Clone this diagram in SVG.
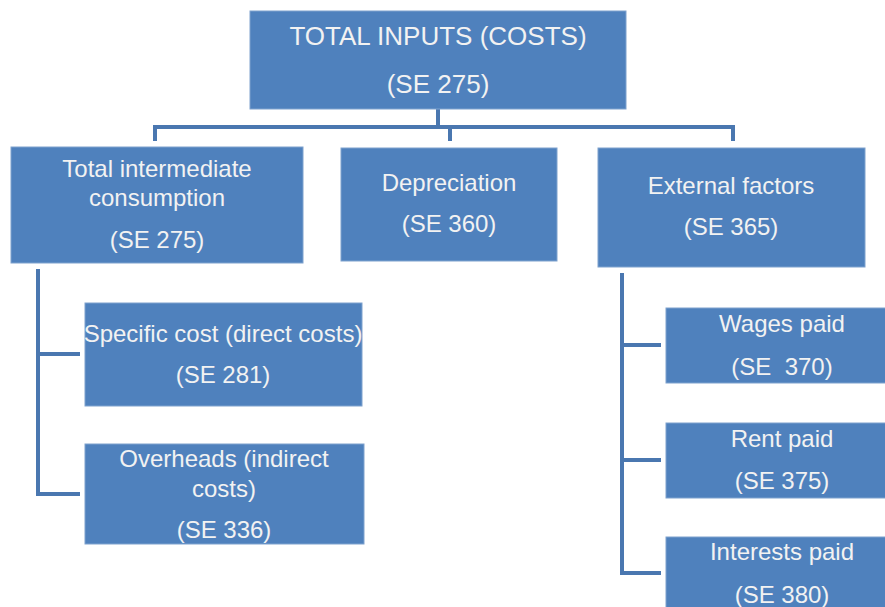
<svg xmlns="http://www.w3.org/2000/svg" width="885" height="607" viewBox="0 0 885 607">
<style>
.box{fill:#4F81BD;stroke:#7FA2CE;stroke-width:1}
.t{font-family:"Liberation Sans",Arial,sans-serif;font-size:24px;fill:#F2F2F2;text-anchor:middle}
.big{font-size:26px}
.c{fill:none;stroke:#4A77B0;stroke-width:4;stroke-linejoin:miter}
</style>
<rect width="885" height="607" fill="#fff"/>
<g id="connectors">
<path class="c" d="M438 109V127M155 141V127H733V141M450 127V141"/>
<path class="c" d="M38 269V494H80M38 354H80"/>
<path class="c" d="M622 273V573H661M622 345H661M622 460H661"/>
</g>
<g id="total">
<rect class="box" x="250" y="11" width="376" height="98"/>
<text class="t big" x="438" y="45">TOTAL INPUTS (COSTS)</text>
<text class="t big" x="438" y="93">(SE 275)</text>
</g>
<g id="intermediate">
<rect class="box" x="11" y="147" width="292" height="116"/>
<text class="t" x="157" y="177">Total intermediate</text>
<text class="t" x="157" y="206">consumption</text>
<text class="t" x="157" y="248">(SE 275)</text>
</g>
<g id="depreciation">
<rect class="box" x="341" y="148" width="216" height="113"/>
<text class="t" x="449" y="191">Depreciation</text>
<text class="t" x="449" y="232">(SE 360)</text>
</g>
<g id="external">
<rect class="box" x="598" y="148" width="267" height="119"/>
<text class="t" x="731" y="194">External factors</text>
<text class="t" x="731" y="235">(SE 365)</text>
</g>
<g id="specific">
<rect class="box" x="85" y="303" width="277" height="103"/>
<text class="t" x="223" y="342">Specific cost (direct costs)</text>
<text class="t" x="223" y="383">(SE 281)</text>
</g>
<g id="overheads">
<rect class="box" x="85" y="444" width="279" height="100"/>
<text class="t" x="224" y="467">Overheads (indirect</text>
<text class="t" x="224" y="497">costs)</text>
<text class="t" x="224" y="538">(SE 336)</text>
</g>
<g id="wages">
<rect class="box" x="666" y="308" width="225" height="75"/>
<text class="t" x="782" y="332">Wages paid</text>
<text class="t" x="782" y="375" xml:space="preserve">(SE  370)</text>
</g>
<g id="rent">
<rect class="box" x="666" y="423" width="225" height="75"/>
<text class="t" x="782" y="447">Rent paid</text>
<text class="t" x="782" y="489">(SE 375)</text>
</g>
<g id="interests">
<rect class="box" x="666" y="537" width="225" height="80"/>
<text class="t" x="782" y="560">Interests paid</text>
<text class="t" x="782" y="603">(SE 380)</text>
</g>
</svg>
